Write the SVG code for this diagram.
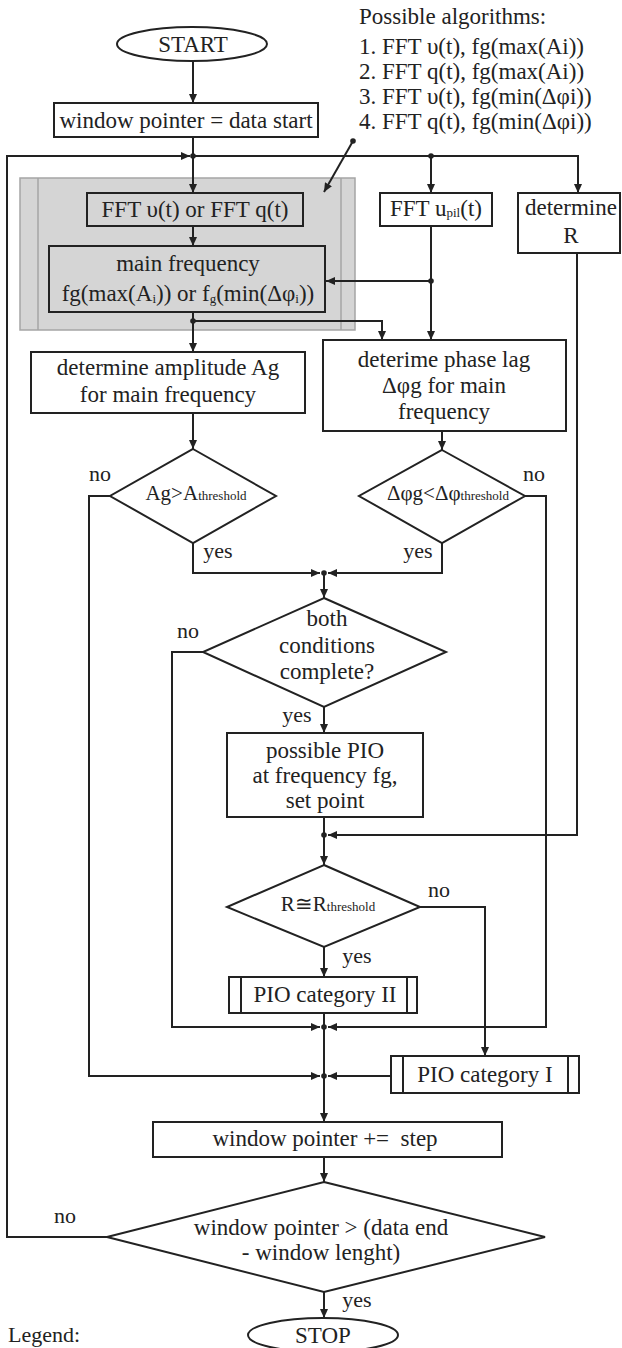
<svg xmlns="http://www.w3.org/2000/svg" width="622" height="1348" viewBox="0 0 622 1348" font-family="'Liberation Serif', 'DejaVu Serif', serif">
<style>
text{font-family:'Liberation Serif','DejaVu Serif',serif;font-size:23px;fill:#222}
.c{text-anchor:middle}
.lb{font-size:22px}
.b{fill:#fff;stroke:#222;stroke-width:2}
.g{fill:#d5d5d5;stroke:#222;stroke-width:2}
.ln{fill:none;stroke:#222;stroke-width:2}
.s{font-size:13px}
</style>
<defs>
<marker id="ah" markerUnits="userSpaceOnUse" markerWidth="9" markerHeight="8" refX="9" refY="4" orient="auto">
<path d="M0,0 L9,4 L0,8 z" fill="#222"/>
</marker>
</defs>
<rect width="622" height="1348" fill="#fff"/>

<g id="panel">
<rect x="20" y="178" width="335" height="152" fill="#d5d5d5" stroke="#a5a5a5" stroke-width="1.5"/>
<line x1="38" y1="178" x2="38" y2="330" stroke="#a5a5a5" stroke-width="1.5"/>
<line x1="341" y1="178" x2="341" y2="330" stroke="#a5a5a5" stroke-width="1.5"/>
</g>

<g id="connectors">
<path class="ln" d="M193,61 V103" marker-end="url(#ah)"/>
<path class="ln" d="M193,137 V193" marker-end="url(#ah)"/>
<path class="ln" d="M107,1237 H7 V156 H190" marker-end="url(#ah)"/>
<path class="ln" d="M193,156 H578 V193" marker-end="url(#ah)"/>
<path class="ln" d="M431,156 V193" marker-end="url(#ah)"/>
<path class="ln" d="M193,226 V246" marker-end="url(#ah)"/>
<path class="ln" d="M193,312 V352" marker-end="url(#ah)"/>
<path class="ln" d="M193,321 H382 V340" marker-end="url(#ah)"/>
<path class="ln" d="M431,226 V340" marker-end="url(#ah)"/>
<path class="ln" d="M431,281 H326" marker-end="url(#ah)"/>
<path class="ln" d="M577,253 V835 H328" marker-end="url(#ah)"/>
<path class="ln" d="M193,413 V449" marker-end="url(#ah)"/>
<path class="ln" d="M442,431 V450" marker-end="url(#ah)"/>
<path class="ln" d="M193,543 V573 H320" marker-end="url(#ah)"/>
<path class="ln" d="M442,543 V573 H328" marker-end="url(#ah)"/>
<path class="ln" d="M324,573 V598" marker-end="url(#ah)"/>
<path class="ln" d="M110,496 H89 V1076 H320" marker-end="url(#ah)"/>
<path class="ln" d="M525,496 H546 V1027 H328" marker-end="url(#ah)"/>
<path class="ln" d="M203,652 H172 V1027 H320" marker-end="url(#ah)"/>
<path class="ln" d="M324,707 V733" marker-end="url(#ah)"/>
<path class="ln" d="M324,817 V865" marker-end="url(#ah)"/>
<path class="ln" d="M324,947 V977" marker-end="url(#ah)"/>
<path class="ln" d="M420,907 H485 V1056" marker-end="url(#ah)"/>
<path class="ln" d="M324,1013 V1122" marker-end="url(#ah)"/>
<path class="ln" d="M391,1076 H328" marker-end="url(#ah)"/>
<path class="ln" d="M324,1157 V1182" marker-end="url(#ah)"/>
<path class="ln" d="M324,1292 V1318" marker-end="url(#ah)"/>
<path class="ln" d="M353,141 L324,192" marker-end="url(#ah)"/>
<g fill="#222">
<circle cx="193" cy="156" r="2.8"/>
<circle cx="431" cy="156" r="2.8"/>
<circle cx="193" cy="321" r="2.8"/>
<circle cx="431" cy="281" r="2.8"/>
<circle cx="324" cy="573" r="2.8"/>
<circle cx="324" cy="835" r="2.8"/>
<circle cx="324" cy="1027" r="2.8"/>
<circle cx="324" cy="1076" r="2.8"/>
<circle cx="353" cy="141" r="2.8"/>
</g>
</g>

<g id="start">
<ellipse cx="192" cy="44" rx="75" ry="17" class="b"/>
<text x="193" y="52" class="c">START</text>
</g>

<g id="algorithms">
<text x="359" y="24">Possible algorithms:</text>
<text x="359" y="54">1. FFT υ(t), fg(max(Ai))</text>
<text x="359" y="79">2. FFT q(t), fg(max(Ai))</text>
<text x="359" y="104">3. FFT υ(t), fg(min(Δφi))</text>
<text x="359" y="129">4. FFT q(t), fg(min(Δφi))</text>
</g>

<g id="init">
<rect x="54" y="103" width="264" height="34" class="b"/>
<text x="186" y="128" class="c">window pointer = data start</text>
</g>

<g id="fft">
<rect x="87" y="193" width="216" height="33" class="g"/>
<text x="195" y="217" class="c">FFT υ(t) or FFT q(t)</text>
</g>

<g id="mainfreq">
<rect x="49" y="246" width="276" height="66" class="g"/>
<text x="188" y="271" class="c">main frequency</text>
<text x="188" y="301" class="c">fg(max(A<tspan class="s" dy="2">i</tspan><tspan dy="-2">)) or f</tspan><tspan class="s" dy="2">g</tspan><tspan dy="-2">(min(Δφ</tspan><tspan class="s" dy="2">i</tspan><tspan dy="-2">))</tspan></text>
</g>

<g id="fftupil">
<rect x="380" y="193" width="112" height="33" class="b"/>
<text x="436" y="216" class="c">FFT u<tspan class="s" dy="1">pil</tspan><tspan dy="-1">(t)</tspan></text>
</g>

<g id="detR">
<rect x="518" y="193" width="102" height="60" class="b"/>
<text x="571" y="215" class="c">determine</text>
<text x="571" y="243" class="c">R</text>
</g>

<g id="amplitude">
<rect x="31" y="352" width="274" height="61" class="b"/>
<text x="168" y="375" class="c">determine amplitude Ag</text>
<text x="168" y="402" class="c">for main frequency</text>
</g>

<g id="phase">
<rect x="323" y="340" width="243" height="91" class="b"/>
<text x="444" y="367" class="c">deterime phase lag</text>
<text x="444" y="393" class="c">Δφg for main</text>
<text x="444" y="419" class="c">frequency</text>
</g>

<g id="dAg">
<polygon points="193,449 276,496 193,543 110,496" class="b"/>
<text x="196" y="500" class="c" style="font-size:21px">Ag&gt;A<tspan class="s">threshold</tspan></text>
<text x="100" y="481" class="c lb">no</text>
<text x="218" y="558" class="c lb">yes</text>
</g>

<g id="dPhase">
<polygon points="442,450 525,496 442,543 359,496" class="b"/>
<text x="448" y="500" class="c" style="font-size:21px">Δφg&lt;Δφ<tspan class="s">threshold</tspan></text>
<text x="534" y="481" class="c lb">no</text>
<text x="418" y="558" class="c lb">yes</text>
</g>

<g id="dBoth">
<polygon points="324,598 446,652 324,707 203,652" class="b"/>
<text x="327" y="626" class="c">both</text>
<text x="327" y="653" class="c">conditions</text>
<text x="327" y="679" class="c">complete?</text>
<text x="188" y="638" class="c lb">no</text>
<text x="297" y="722" class="c lb">yes</text>
</g>

<g id="possible">
<rect x="227" y="733" width="196" height="84" class="b"/>
<text x="325" y="758" class="c">possible PIO</text>
<text x="325" y="783" class="c">at frequency fg,</text>
<text x="325" y="808" class="c">set point</text>
</g>

<g id="dR">
<polygon points="324,865 420,907 324,947 227,907" class="b"/>
<text x="328" y="911" class="c" style="font-size:21px">R≅R<tspan class="s">threshold</tspan></text>
<text x="439" y="897" class="c lb">no</text>
<text x="357" y="963" class="c lb">yes</text>
</g>

<g id="pio2">
<rect x="229" y="977" width="188" height="36" class="b"/>
<line x1="241" y1="977" x2="241" y2="1013" class="ln"/>
<line x1="407" y1="977" x2="407" y2="1013" class="ln"/>
<text x="325" y="1002" class="c">PIO category II</text>
</g>

<g id="pio1">
<rect x="391" y="1056" width="188" height="37" class="b"/>
<line x1="403" y1="1056" x2="403" y2="1093" class="ln"/>
<line x1="568" y1="1056" x2="568" y2="1093" class="ln"/>
<text x="485" y="1082" class="c">PIO category I</text>
</g>

<g id="step">
<rect x="153" y="1122" width="349" height="35" class="b"/>
<text x="325" y="1146" class="c" xml:space="preserve">window pointer +=  step</text>
</g>

<g id="dEnd">
<polygon points="324,1182 545,1237 324,1292 107,1237" class="b"/>
<text x="321" y="1235" class="c">window pointer &gt; (data end</text>
<text x="321" y="1260" class="c">- window lenght)</text>
<text x="65" y="1223" class="c lb">no</text>
<text x="357" y="1307" class="c lb">yes</text>
</g>

<g id="stop">
<ellipse cx="323" cy="1335" rx="75" ry="17" class="b"/>
<text x="323" y="1343" class="c">STOP</text>
</g>

<g id="legend">
<text x="8" y="1342" class="lb">Legend:</text>
</g>
</svg>
